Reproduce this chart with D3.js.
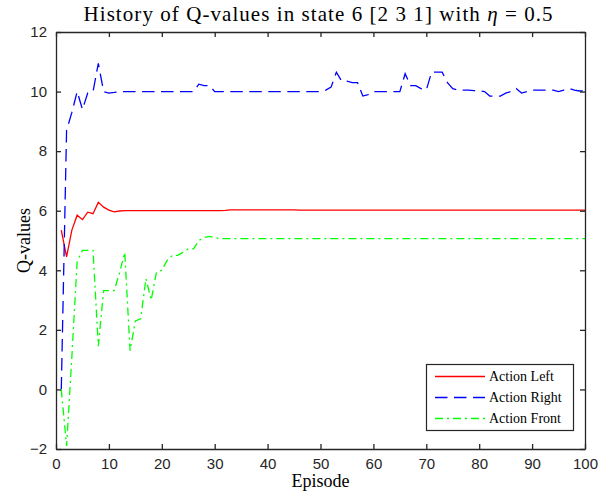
<!DOCTYPE html>
<html>
<head>
<meta charset="utf-8">
<script src="https://cdn.jsdelivr.net/npm/d3@7"></script>
<style>
  html, body { margin: 0; padding: 0; background: #fff; }
  svg { display: block; }
</style>
</head>
<body>
<svg id="chart" width="608" height="492"></svg>
<script>
// Q-value history per action, one value per episode (1..100)
const episodes = d3.range(1, 101);

const actionLeft = [
  5.35, 4.45, 5.35, 5.85, 5.70, 5.95, 5.90, 6.28, 6.12, 6.02,
  5.96, 5.99, 6.00, 6.00, 6.00, 6.00, 6.00, 6.00, 6.00, 6.00,
  6.00, 6.00, 6.00, 6.00, 6.00, 6.00, 6.00, 6.00, 6.00, 6.00,
  6.00, 6.01, 6.03, 6.03, 6.03, 6.03, 6.03, 6.03, 6.03, 6.03,
  6.03, 6.03, 6.03, 6.03, 6.03, 6.02, 6.02, 6.02, 6.02, 6.02,
  6.02, 6.02, 6.02, 6.02, 6.02, 6.02, 6.02, 6.02, 6.02, 6.02,
  6.02, 6.02, 6.02, 6.02, 6.02, 6.02, 6.02, 6.02, 6.02, 6.02,
  6.02, 6.02, 6.02, 6.02, 6.02, 6.02, 6.02, 6.02, 6.02, 6.02,
  6.02, 6.02, 6.02, 6.02, 6.02, 6.02, 6.02, 6.02, 6.02, 6.02,
  6.02, 6.02, 6.02, 6.02, 6.02, 6.02, 6.02, 6.02, 6.02, 6.02
];

const actionRight = [
  0.00, 8.70, 9.30, 10.00, 9.40, 9.95, 10.00, 10.95, 10.00, 9.95,
  9.97, 10.00, 10.00, 10.00, 10.00, 10.00, 10.00, 10.00, 10.00, 10.00,
  10.00, 10.00, 10.00, 10.00, 10.00, 10.00, 10.25, 10.20, 10.20, 10.00,
  10.00, 10.00, 10.00, 10.00, 10.00, 10.00, 10.00, 10.00, 10.00, 10.00,
  10.00, 10.00, 10.00, 10.00, 10.00, 10.00, 10.00, 10.00, 10.00, 10.00,
  10.05, 10.15, 10.65, 10.35, 10.35, 10.30, 10.30, 9.85, 9.90, 10.00,
  10.00, 10.00, 10.00, 10.00, 10.00, 10.60, 10.20, 10.20, 10.10, 10.05,
  10.65, 10.65, 10.65, 10.30, 10.10, 10.05, 10.05, 10.05, 10.03, 10.03,
  10.00, 9.85, 9.85, 9.85, 9.95, 10.00, 10.10, 9.95, 10.00, 10.05,
  10.05, 10.05, 10.05, 10.05, 10.00, 10.05, 10.10, 10.05, 10.02, 10.02
];

const actionFront = [
  0.00, -1.90, 1.10, 4.30, 4.67, 4.67, 4.67, 1.45, 3.32, 3.32,
  3.32, 3.90, 4.60, 1.30, 2.30, 2.37, 3.72, 3.00, 3.94, 4.00,
  4.33, 4.50, 4.50, 4.60, 4.72, 4.72, 5.00, 5.10, 5.14, 5.10,
  5.06, 5.06, 5.06, 5.06, 5.06, 5.06, 5.06, 5.06, 5.06, 5.06,
  5.06, 5.06, 5.06, 5.06, 5.06, 5.06, 5.06, 5.06, 5.06, 5.06,
  5.06, 5.06, 5.06, 5.06, 5.06, 5.06, 5.06, 5.06, 5.06, 5.06,
  5.06, 5.06, 5.06, 5.06, 5.06, 5.06, 5.06, 5.06, 5.06, 5.06,
  5.06, 5.06, 5.06, 5.06, 5.06, 5.06, 5.06, 5.06, 5.06, 5.06,
  5.06, 5.06, 5.06, 5.06, 5.06, 5.06, 5.06, 5.06, 5.06, 5.06,
  5.06, 5.06, 5.06, 5.06, 5.06, 5.06, 5.06, 5.06, 5.06, 5.06
];

const xTicks = [0, 10, 20, 30, 40, 50, 60, 70, 80, 90, 100];
const yTicks = [-2, 0, 2, 4, 6, 8, 10, 12];

const seriesNames = ["Action Left", "Action Right", "Action Front"];
const seriesColors = ["#ff0000", "#0000ff", "#00ff00"];
const seriesDash = [null, "12.5,6.5", "8,4,2,4"];
const seriesValues = [actionLeft, actionRight, actionFront];

const margin = { left: 56, right: 23, top: 32, bottom: 43 };
const W = 608, H = 492;
const innerW = W - margin.left - margin.right;
const innerH = H - margin.top - margin.bottom;

const svg = d3.select("#chart");
const axisColor = "#262626";
const serif = "'Liberation Serif', 'DejaVu Serif', serif";
const sans = "'Liberation Sans', Arial, sans-serif";

const x = d3.scaleLinear().domain([0, 100]).range([margin.left, margin.left + innerW]);
const y = d3.scaleLinear().domain([-2, 12]).range([margin.top + innerH, margin.top]);

const plot = svg.append("g");

// clip the lines to the axes box
svg.append("defs").append("clipPath").attr("id", "box")
  .append("rect")
  .attr("x", margin.left).attr("y", margin.top)
  .attr("width", innerW).attr("height", innerH);

const line = d3.line()
  .x((d, i) => x(episodes[i]))
  .y(d => y(d));

const lines = plot.append("g").attr("clip-path", "url(#box)");
seriesValues.forEach((vals, k) => {
  lines.append("path")
    .datum(vals)
    .attr("fill", "none")
    .attr("stroke", seriesColors[k])
    .attr("stroke-width", 1.3)
    .attr("stroke-dasharray", seriesDash[k])
    .attr("d", line);
});

// axes: ticks point inward, box drawn on all four sides
const tickLen = 5;
const xAxisB = d3.axisBottom(x).tickValues(xTicks).tickSize(-tickLen).tickPadding(9).tickSizeOuter(0);
const xAxisT = d3.axisTop(x).tickValues(xTicks).tickSize(-tickLen).tickFormat("").tickSizeOuter(0);
const yAxisL = d3.axisLeft(y).tickValues(yTicks).tickSize(-tickLen).tickPadding(9).tickSizeOuter(0);
const yAxisR = d3.axisRight(y).tickValues(yTicks).tickSize(-tickLen).tickFormat("").tickSizeOuter(0);

function styleAxis(g) {
  g.select(".domain").attr("stroke", axisColor).attr("stroke-width", 1.3);
  g.selectAll(".tick line").attr("stroke", axisColor).attr("stroke-width", 1.3);
  g.selectAll(".tick text")
    .attr("fill", axisColor)
    .style("font-family", sans)
    .style("font-size", "15px");
}

plot.append("g").attr("transform", `translate(0,${margin.top + innerH})`).call(xAxisB).call(styleAxis);
plot.append("g").attr("transform", `translate(0,${margin.top})`).call(xAxisT).call(styleAxis);
plot.append("g").attr("transform", `translate(${margin.left},0)`).call(yAxisL).call(styleAxis);
plot.append("g").attr("transform", `translate(${margin.left + innerW},0)`).call(yAxisR).call(styleAxis);

// title
const title = svg.append("text")
  .attr("x", 318).attr("y", 21)
  .attr("text-anchor", "middle")
  .attr("textLength", 469)
  .attr("lengthAdjust", "spacing")
  .style("font-family", serif)
  .style("font-size", "21px")
  .attr("fill", "#000");
title.append("tspan").text("History of Q-values in state 6 [2 3 1] with ");
title.append("tspan").style("font-style", "italic").text("η");
title.append("tspan").text(" = 0.5");

// axis labels
svg.append("text")
  .attr("x", margin.left + innerW / 2).attr("y", 487)
  .attr("text-anchor", "middle")
  .style("font-family", serif)
  .style("font-size", "18px")
  .text("Episode");

svg.append("text")
  .attr("transform", `translate(30,${margin.top + innerH / 2}) rotate(-90)`)
  .attr("text-anchor", "middle")
  .style("font-family", serif)
  .style("font-size", "18px")
  .text("Q-values");

// legend
const lg = svg.append("g");
lg.append("rect")
  .attr("x", 426.5).attr("y", 364.5)
  .attr("width", 147).attr("height", 66)
  .attr("fill", "#fff")
  .attr("stroke", axisColor)
  .attr("stroke-width", 1.2);

seriesNames.forEach((name, k) => {
  const yy = 376.5 + k * 21;
  lg.append("line")
    .attr("x1", 435).attr("x2", 485)
    .attr("y1", yy).attr("y2", yy)
    .attr("stroke", seriesColors[k])
    .attr("stroke-width", 1.3)
    .attr("stroke-dasharray", seriesDash[k]);
  lg.append("text")
    .attr("x", 489).attr("y", yy + 4.5)
    .style("font-family", serif)
    .style("font-size", "14px")
    .attr("fill", "#000")
    .text(name);
});
</script>
</body>
</html>
